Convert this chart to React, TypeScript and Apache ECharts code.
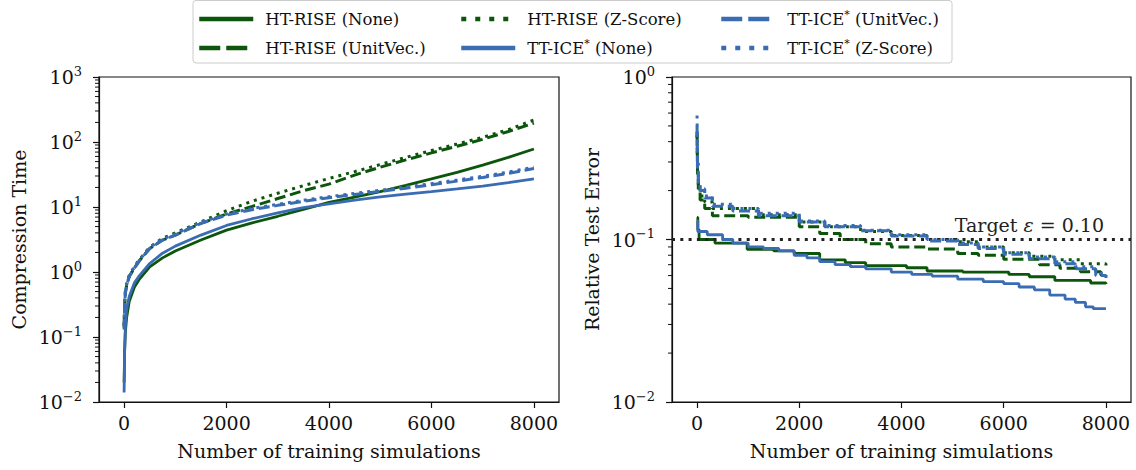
import React, { useEffect, useRef } from 'react';
import * as echarts from 'echarts';

const FONT = "'DejaVu Serif', serif";
const INK = '#111111';
const GREEN = '#0b560b';
const BLUE = '#3a6cb3';

const SERIES_NAMES = [
  'HT-RISE (None)',
  'HT-RISE (UnitVec.)',
  'HT-RISE (Z-Score)',
  'TT-ICE* (None)',
  'TT-ICE* (UnitVec.)',
  'TT-ICE* (Z-Score)',
];

// ---- Left panel: compression time ----
const X_TIME = [0, 10, 25, 50, 100, 200, 300, 500, 750, 1000, 1500, 2000, 2500, 3000, 3500, 4000, 4500, 5000, 5500, 6000, 6500, 7000, 7500, 8000];
const HT_NONE_TIME = [0.02, 0.06, 0.12, 0.2, 0.35, 0.58, 0.78, 1.2, 1.65, 2.1, 3.1, 4.4, 5.7, 7.2, 9.2, 11.8, 14.2, 17.2, 21.5, 27, 34, 44, 58, 78];
const HT_UNIT_TIME = [0.14, 0.3, 0.48, 0.62, 0.85, 1.15, 1.5, 2.3, 3.1, 3.7, 5.6, 7.8, 10.2, 13.5, 17.8, 22.5, 31, 41, 53, 68, 86, 110, 145, 195];
const HT_Z_TIME = [0.15, 0.32, 0.5, 0.65, 0.88, 1.2, 1.55, 2.4, 3.3, 4.0, 5.9, 8.8, 12.3, 16.3, 21.3, 27.5, 35, 45, 58, 74, 93, 118, 155, 218];
const TT_NONE_TIME = [0.014, 0.06, 0.15, 0.27, 0.42, 0.68, 0.88, 1.35, 1.95, 2.5, 3.7, 5.2, 6.6, 8.1, 9.8, 11.2, 12.8, 14.3, 15.8, 17.3, 19, 21, 23.7, 27];
const TT_UNIT_TIME = [0.13, 0.3, 0.48, 0.62, 0.85, 1.15, 1.5, 2.3, 3.1, 3.7, 5.6, 7.5, 9.1, 10.6, 12.2, 13.9, 15.6, 17.4, 19.5, 22, 25, 28.5, 33, 39];
const TT_Z_TIME = [0.15, 0.32, 0.5, 0.65, 0.88, 1.2, 1.55, 2.4, 3.2, 3.85, 5.8, 7.8, 9.5, 11.0, 12.7, 14.4, 16.2, 18.1, 20.3, 22.9, 26, 29.7, 34.5, 41];
const TIME_VALUES = [HT_NONE_TIME, HT_UNIT_TIME, HT_Z_TIME, TT_NONE_TIME, TT_UNIT_TIME, TT_Z_TIME];

// ---- Right panel: relative test error (step changes) ----
const HT_NONE_ERR_X = [0, 15, 40, 350, 980, 1500, 1900, 2400, 2900, 3300, 4100, 4500, 5200, 6100, 6500, 7000, 7700, 8000];
const HT_NONE_ERR = [0.137, 0.115, 0.1, 0.095, 0.087, 0.085, 0.082, 0.075, 0.072, 0.069, 0.067, 0.064, 0.063, 0.061, 0.059, 0.056, 0.054, 0.0532];
const HT_UNIT_ERR_X = [0, 10, 25, 60, 150, 300, 1000, 2000, 2400, 2800, 3300, 3800, 4500, 5100, 5500, 6000, 6700, 7100, 7500, 7900, 8000];
const HT_UNIT_ERR = [0.46, 0.25, 0.2, 0.175, 0.155, 0.14, 0.137, 0.12, 0.109, 0.1, 0.094, 0.09, 0.0875, 0.082, 0.08, 0.0755, 0.07, 0.0665, 0.0634, 0.0604, 0.06];
const HT_Z_ERR_X = [0, 10, 25, 60, 150, 300, 1200, 2000, 2500, 3200, 3800, 4500, 5100, 5500, 6000, 6500, 7000, 7500, 8000];
const HT_Z_ERR = [0.44, 0.26, 0.21, 0.185, 0.17, 0.155, 0.142, 0.128, 0.12, 0.112, 0.106, 0.1, 0.097, 0.09, 0.083, 0.079, 0.075, 0.071, 0.0665];
const TT_NONE_ERR_X = [0, 15, 200, 500, 700, 1000, 1300, 1600, 1900, 2150, 2400, 2700, 3000, 3300, 3800, 4200, 4600, 5100, 5600, 6000, 6300, 6600, 6900, 7200, 7400, 7600, 7750, 8000];
const TT_NONE_ERR = [0.13, 0.112, 0.107, 0.1, 0.095, 0.09, 0.088, 0.085, 0.08, 0.077, 0.073, 0.07, 0.068, 0.066, 0.063, 0.061, 0.0595, 0.057, 0.055, 0.0535, 0.051, 0.049, 0.0455, 0.043, 0.041, 0.0385, 0.0375, 0.0375];
const TT_UNIT_ERR_X = [0, 10, 25, 60, 150, 300, 700, 1200, 2000, 2500, 3200, 3800, 4500, 5100, 5500, 6000, 6500, 7000, 7400, 7800, 8000];
const TT_UNIT_ERR = [0.5, 0.27, 0.22, 0.2, 0.18, 0.16, 0.15, 0.14, 0.128, 0.12, 0.113, 0.105, 0.098, 0.093, 0.088, 0.081, 0.076, 0.071, 0.066, 0.06, 0.058];
const TT_Z_ERR_X = [0, 10, 25, 60, 150, 300, 700, 1200, 2000, 2500, 3200, 3800, 4500, 5100, 5500, 6000, 6500, 7000, 7400, 7800, 8000];
const TT_Z_ERR = [0.58, 0.3, 0.23, 0.205, 0.185, 0.165, 0.155, 0.145, 0.13, 0.122, 0.114, 0.107, 0.1, 0.095, 0.09, 0.083, 0.078, 0.073, 0.068, 0.062, 0.0595];
const ERR_X = [HT_NONE_ERR_X, HT_UNIT_ERR_X, HT_Z_ERR_X, TT_NONE_ERR_X, TT_UNIT_ERR_X, TT_Z_ERR_X];
const ERR_VALUES = [HT_NONE_ERR, HT_UNIT_ERR, HT_Z_ERR, TT_NONE_ERR, TT_UNIT_ERR, TT_Z_ERR];

const TARGET = 0.1;
const X_MIN = -490;
const X_MAX = 8490;
const X_TICKS = [0, 2000, 4000, 6000, 8000];
const MINOR_MANTISSAS = [2, 3, 4, 5, 6, 7, 8, 9];
const LEFT_DECADES = [0.01, 0.1, 1, 10, 100];
const RIGHT_DECADES = [0.01, 0.1];

const LINE_STYLES = [
  { color: GREEN, type: 'solid' as any, width: 2.8 },
  { color: GREEN, type: [11, 4.8] as any, width: 3 },
  { color: GREEN, type: [3, 5] as any, width: 3 },
  { color: BLUE, type: 'solid' as any, width: 2.8 },
  { color: BLUE, type: [11, 4.8] as any, width: 3 },
  { color: BLUE, type: [3, 5] as any, width: 3 },
];
const LEGEND_LINE = [
  { color: GREEN, type: 'solid', width: 4.5 },
  { color: GREEN, type: [21, 6], width: 4.5 },
  { color: GREEN, type: [5, 9], width: 4.5 },
  { color: BLUE, type: 'solid', width: 4.5 },
  { color: BLUE, type: [21, 6], width: 4.5 },
  { color: BLUE, type: [5, 9], width: 4.5 },
];

const powLabel = (v: number) => {
  const e = Math.round(Math.log10(v));
  return `{b|10}{s|${e < 0 ? '\u2212' + -e : e}}`;
};
const powRich = {
  b: { fontFamily: FONT, fontSize: 19, lineHeight: 25, color: INK },
  s: { fontFamily: FONT, fontSize: 13, lineHeight: 13, verticalAlign: 'top', color: INK },
};

const axisLineStyle = { color: INK, width: 1.2 };

function xAxis(gridIndex: number) {
  return {
    type: 'value',
    gridIndex,
    min: X_MIN,
    max: X_MAX,
    name: 'Number of training simulations',
    nameLocation: 'middle',
    nameGap: 39,
    nameTextStyle: { fontFamily: FONT, fontSize: 19, color: INK },
    axisLine: { show: true, onZero: false, lineStyle: axisLineStyle },
    axisTick: { show: true, inside: false, length: 6, lineStyle: axisLineStyle, customValues: X_TICKS },
    axisLabel: {
      show: true, margin: 11, fontFamily: FONT, fontSize: 19, color: INK,
      customValues: X_TICKS, formatter: (v: number) => String(v),
    },
    splitLine: { show: false },
  };
}

function logAxis(gridIndex: number, min: number, max: number, name: string) {
  return {
    type: 'log',
    logBase: 10,
    gridIndex,
    position: 'left',
    min,
    max,
    name,
    nameLocation: 'middle',
    nameGap: 71,
    nameTextStyle: { fontFamily: FONT, fontSize: 19, color: INK },
    axisLine: { show: true, onZero: false, lineStyle: axisLineStyle },
    axisTick: { show: true, inside: false, length: 6, lineStyle: axisLineStyle },
    axisLabel: { show: true, margin: 17, formatter: powLabel, rich: powRich },
    splitLine: { show: false },
    minorTick: { show: false },
    minorSplitLine: { show: false },
  };
}

// minor ticks of the log axes, placed through the axes' own scales
function minorTickSeries(xAxisIndex: number, yAxisIndex: number, decades: number[]) {
  const values = decades.flatMap((d) => MINOR_MANTISSAS.map((m) => m * d));
  return {
    type: 'custom',
    name: 'minor-ticks-' + yAxisIndex,
    xAxisIndex,
    yAxisIndex,
    silent: true,
    clip: false,
    z: 20,
    data: values.map((v) => [X_MIN, v]),
    encode: { x: 0, y: 1 },
    renderItem: (params: any, api: any) => {
      const p = api.coord([api.value(0), api.value(1)]);
      return {
        type: 'rect',
        shape: { x: p[0] - 4, y: p[1] - 0.5, width: 4, height: 1 },
        style: { fill: INK },
      };
    },
  };
}

const legendFormatter = (name: string) => {
  const i = name.indexOf('*');
  if (i < 0) return `{g| }{t|${name}}`;
  return `{g| }{t|${name.slice(0, i)}}{sup|*}{t|${name.slice(i + 1)}}`;
};
const legendText = {
  fontFamily: FONT,
  fontSize: 16.5,
  color: INK,
  lineHeight: 20,
  rich: {
    g: { width: 7 },
    t: { fontFamily: FONT, fontSize: 16.5, lineHeight: 20, color: INK },
    sup: { fontFamily: FONT, fontSize: 11, lineHeight: 11, verticalAlign: 'top', color: INK },
  },
};
function legend(left: number, idx: number[]) {
  return {
    orient: 'vertical',
    left,
    top: 9,
    padding: 0,
    itemWidth: 54,
    itemHeight: 14,
    itemGap: 9,
    selectedMode: false,
    z: 10,
    formatter: legendFormatter,
    textStyle: legendText,
    itemStyle: { opacity: 0, borderWidth: 0 },
    data: idx.map((i) => ({
      name: SERIES_NAMES[i],
      lineStyle: LEGEND_LINE[i],
      itemStyle: { opacity: 0, borderWidth: 0, color: 'rgba(0,0,0,0)' },
    })),
  };
}

function buildOption() {
  const leftSeries = SERIES_NAMES.map((name, i) => ({
    name,
    type: 'line',
    xAxisIndex: 0,
    yAxisIndex: 0,
    symbol: 'none',
    showSymbol: false,
    lineStyle: LINE_STYLES[i],
    itemStyle: { color: LINE_STYLES[i].color },
    data: X_TIME.map((x, j) => [x, TIME_VALUES[i][j]]),
    z: 2 + i,
  }));
  const rightSeries: any[] = SERIES_NAMES.map((name, i) => ({
    name,
    type: 'line',
    xAxisIndex: 1,
    yAxisIndex: 1,
    symbol: 'none',
    showSymbol: false,
    step: 'end',
    lineStyle: LINE_STYLES[i],
    itemStyle: { color: LINE_STYLES[i].color },
    data: ERR_X[i].map((x, j) => [x, ERR_VALUES[i][j]]),
    z: 2 + i,
  }));
  rightSeries[5].markLine = {
    silent: true,
    symbol: ['none', 'none'],
    data: [{ yAxis: TARGET }],
    lineStyle: { color: '#222', type: [3, 5.3], width: 2.8 },
    emphasis: { disabled: true },
    label: {
      show: true,
      position: 'insideEndTop',
      distance: [27, 5],
      formatter: () => `{n|Target }{i|\u03b5}{n| = ${TARGET.toFixed(2)}}`,
      rich: {
        n: { fontFamily: FONT, fontSize: 19, color: '#222' },
        i: { fontFamily: FONT, fontSize: 19, fontStyle: 'italic', color: '#222' },
      },
    },
  };

  return {
    animation: false,
    backgroundColor: '#ffffff',
    textStyle: { fontFamily: FONT },
    graphic: [
      {
        type: 'rect',
        z: 1,
        silent: true,
        shape: { x: 193, y: 0.5, width: 759, height: 62.5, r: 3 },
        style: { fill: '#ffffff', stroke: '#cccccc', lineWidth: 1 },
      },
    ],
    legend: [legend(197, [0, 1]), legend(459, [2, 3]), legend(719, [4, 5])],
    grid: [
      { left: 99, top: 77, width: 460, height: 325, show: true, borderColor: INK, borderWidth: 1.2, backgroundColor: 'transparent', containLabel: false, outerBoundsMode: 'none' },
      { left: 672, top: 77, width: 459, height: 325, show: true, borderColor: INK, borderWidth: 1.2, backgroundColor: 'transparent', containLabel: false, outerBoundsMode: 'none' },
    ],
    xAxis: [xAxis(0), xAxis(1)],
    yAxis: [
      logAxis(0, 0.01, 1000, 'Compression Time'),
      logAxis(1, 0.01, 1, 'Relative Test Error'),
    ],
    series: [
      ...leftSeries,
      ...rightSeries,
      minorTickSeries(0, 0, LEFT_DECADES),
      minorTickSeries(1, 1, RIGHT_DECADES),
    ],
  };
}

export default function App() {
  const ref = useRef<HTMLDivElement>(null);
  useEffect(() => {
    if (!ref.current) return;
    const chart = echarts.init(ref.current, null, { renderer: 'svg' });
    chart.setOption(buildOption() as any);
    return () => chart.dispose();
  }, []);
  return (
    <div
      ref={ref}
      style={{ position: 'absolute', left: 0, top: 0, width: 1136, height: 470, background: '#fff' }}
    />
  );
}
